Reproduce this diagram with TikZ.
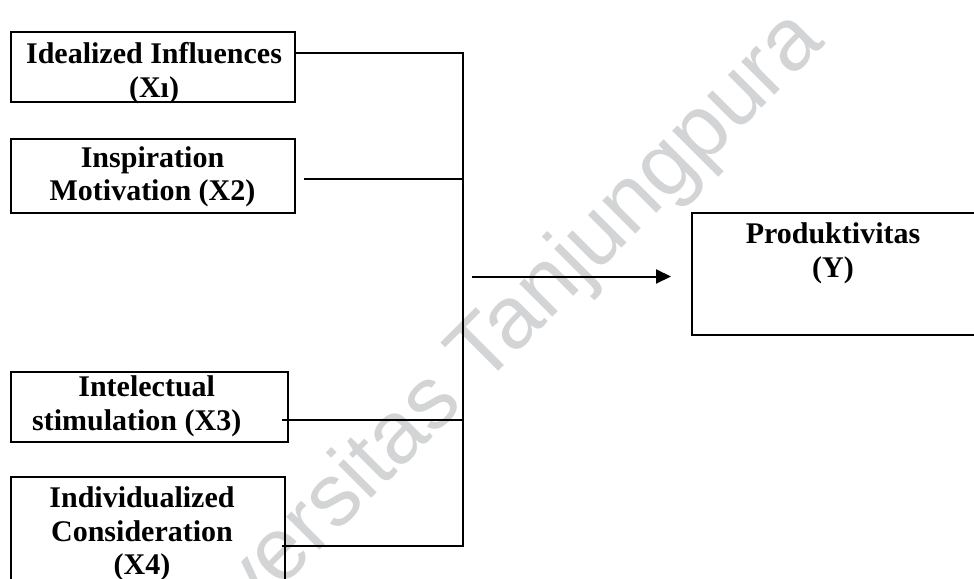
\documentclass[tikz,border=0pt]{standalone}
\usepackage{fontspec}
\setmainfont{Liberation Serif}
\newfontfamily\wmfont{Liberation Sans}
\usetikzlibrary{arrows.meta}
\definecolor{wmgray}{RGB}{211,212,214}
\tikzset{
  box/.style={draw=black, line width=2.6pt, rectangle, inner sep=0pt, outer sep=0pt, anchor=north west},
  lbl/.style={font=\bfseries\fontsize{30}{33.5}\selectfont, align=center, anchor=north, inner sep=0pt},
  conn/.style={line width=2pt},
  wm/.style={font=\wmfont\fontsize{88.5}{88.5}\selectfont, text=wmgray, rotate=45, anchor=base, inner sep=0pt}
}
\begin{document}
\begin{tikzpicture}[x=1pt,y=-1pt]
\clip (0,0) rectangle (974,578);
\fill[white] (0,0) rectangle (974,578);
% watermark
\node[wm] (wm) at (491,379) {Universitas Tanjungpura};
% boxes
\node[box, minimum width=284pt, minimum height=70pt] (x1) at (11,32) {};
\node[box, minimum width=284pt, minimum height=74pt] (x2) at (11,139) {};
\node[box, minimum width=277pt, minimum height=70pt] (x3) at (11,372) {};
\node[box, minimum width=274pt, minimum height=130pt] (x4) at (11,477) {};
\node[box, minimum width=290pt, minimum height=122pt] (y) at (692,213) {};
% labels
\node[lbl] (t1) at (154,42.3) {Idealized Influences\\(Xı)};
\node[lbl] (t2) at (152.5,146.3) {Inspiration\\Motivation (X2)};
\node[lbl] (t3) at (146.7,375.5) {Intelectual\\stimulation (X3)\hspace*{20pt}};
\node[lbl] (t4) at (142,486.5) {Individualized\\Consideration\\(X4)};
\node[lbl] (t5) at (833,222.5) {Produktivitas\\(Y)};
% junctions
\coordinate (j1) at (462.5,53);
\coordinate (j2) at (462.5,179);
\coordinate (j3) at (462.5,420);
\coordinate (j4) at (462.5,546);
\coordinate (a0) at (472,276.5);
% connectors
\draw[conn] (x1.east |- j1) -- (j1) -- (j4) -- ([xshift=-3pt]x4.east |- j4);
\draw[conn] ([xshift=9pt]x2.east |- j2) -- (j2);
\draw[conn] ([xshift=-6pt]x3.east |- j3) -- (j3);
\draw[conn, -{Triangle[length=15pt, width=14pt]}] (a0) -- ([xshift=-21pt]y.west |- a0);
\end{tikzpicture}
\end{document}
